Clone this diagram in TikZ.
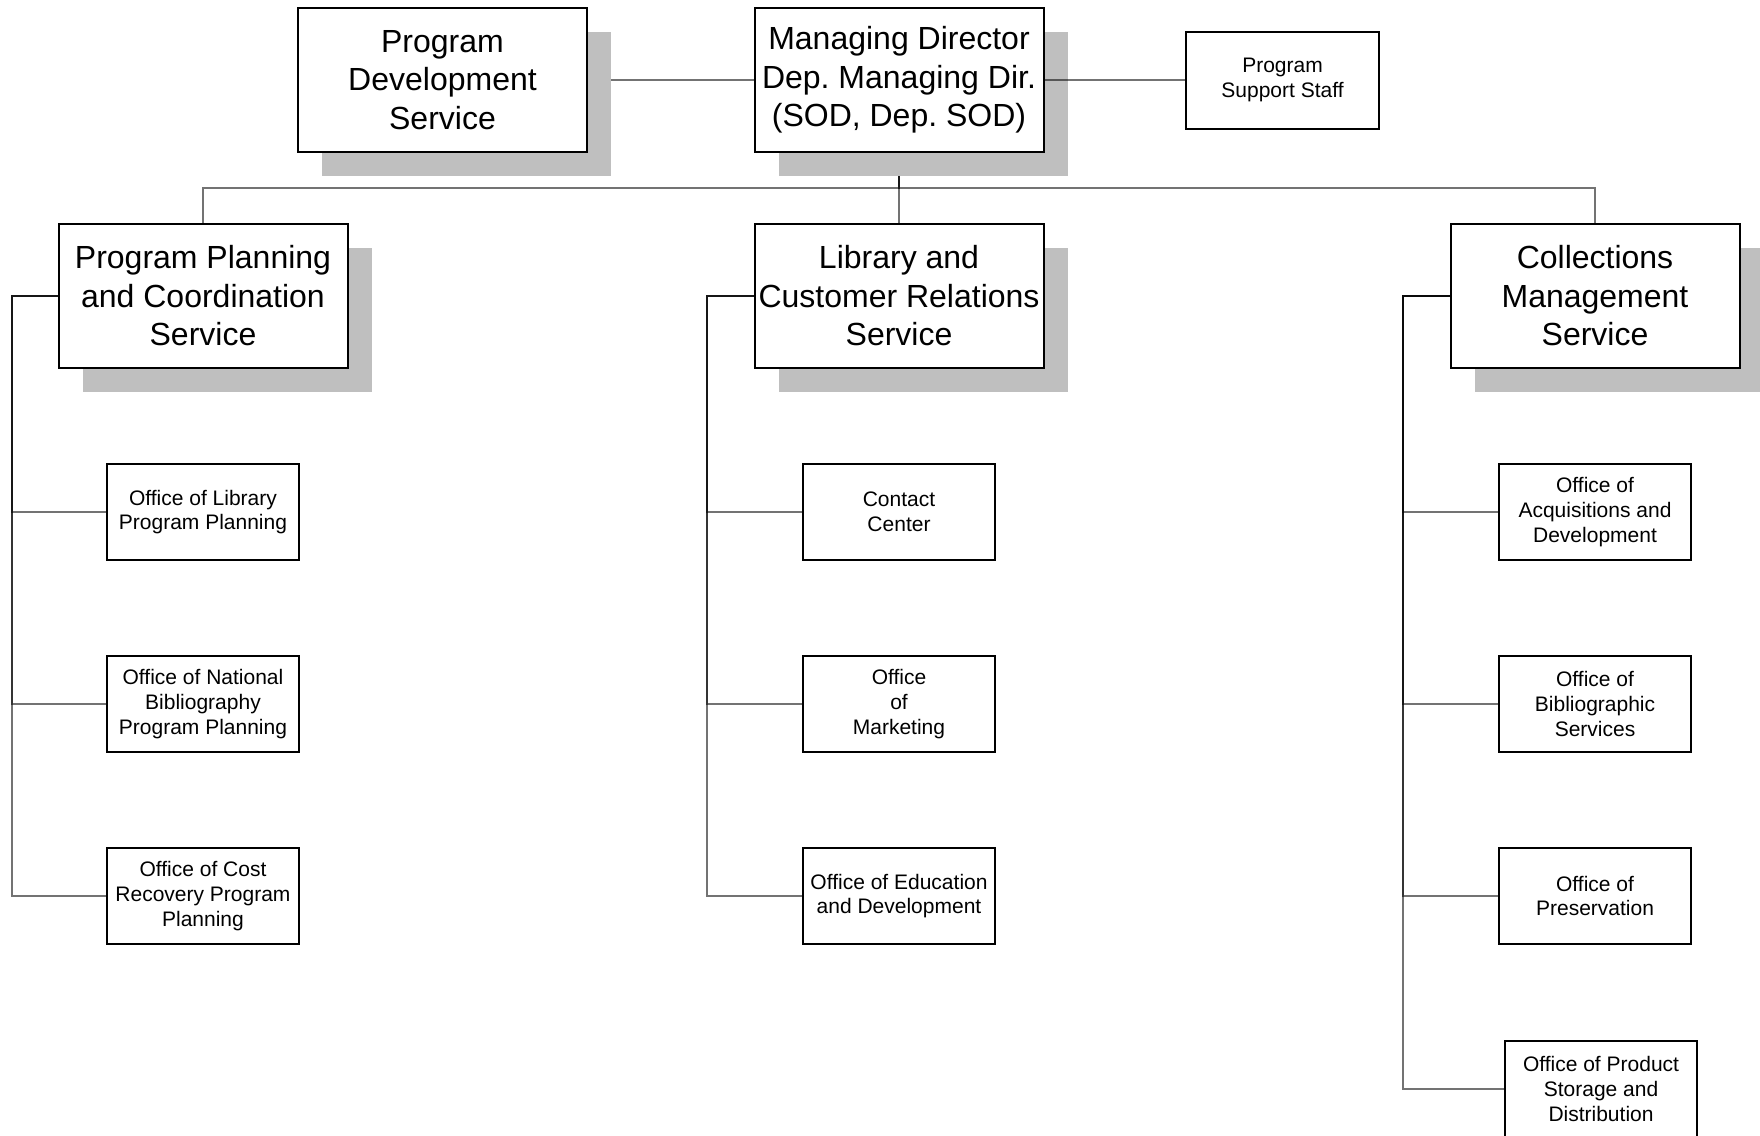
\documentclass[tikz,border=0pt]{standalone}
\usepackage{fontspec}
\setmainfont{Liberation Sans}
\usetikzlibrary{shadows}
\pgfdeclarelayer{background}
\pgfsetlayers{background,main}
\frenchspacing
\begin{document}
\begin{tikzpicture}[x=1pt,y=-1pt,
  bigbox/.style={draw, line width=2pt, fill=white, minimum width=289pt, minimum height=144pt,
    inner sep=0pt, align=center, font=\fontsize{32}{38.5}\selectfont,
    drop shadow={shadow xshift=24pt, shadow yshift=-24pt, fill=black!25, opacity=1}},
  smallbox/.style={draw, line width=2pt, fill=white, minimum width=192pt, minimum height=96pt,
    inner sep=0pt, align=center, font=\fontsize{21}{24.7}\selectfont},
  conn/.style={draw=black, draw opacity=0.55, line width=1.6pt}]
\useasboundingbox (0,0) rectangle (1760,1135);

% top row
\node[bigbox] (PDS) at (442.5,80) {Program\\Development\\Service};
\node[bigbox] (MD) at (899,80) {Managing Director\\Dep. Managing Dir.\\(SOD, Dep. SOD)};
\node[smallbox, minimum width=193pt, minimum height=97pt] (PSS) at (1282.5,80) {Program\\Support Staff};

% second row
\node[bigbox] (PPCS) at (203,296) {Program Planning\\and Coordination\\Service};
\node[bigbox] (LCRS) at (899,296) {Library and\\Customer Relations\\Service};
\node[bigbox] (CMS) at (1595,296) {Collections\\Management\\Service};

% third level
\node[smallbox] (A1) at (203,512) {Office of Library\\Program Planning};
\node[smallbox] (A2) at (203,704) {Office of National\\Bibliography\\Program Planning};
\node[smallbox] (A3) at (203,896) {Office of Cost\\Recovery Program\\Planning};

\node[smallbox] (B1) at (899,512) {Contact\\Center};
\node[smallbox] (B2) at (899,704) {Office\\of\\Marketing};
\node[smallbox] (B3) at (899,896) {Office of Education\\and Development};

\node[smallbox] (C1) at (1595,512) {Office of\\Acquisitions and\\Development};
\node[smallbox] (C2) at (1595,704) {Office of\\Bibliographic\\Services};
\node[smallbox] (C3) at (1595,896) {Office of\\Preservation};
\node[smallbox] (C4) at (1601,1089) {Office of Product\\Storage and\\Distribution};

\coordinate (bus) at (0,188);
\coordinate (spA) at (11.7,296);
\coordinate (spB) at (707,296);
\coordinate (spC) at (1403,296);

% drawn over the shadow of MD
\draw[conn] (MD.east) -- (PSS.west);

\begin{pgfonlayer}{background}
\draw[conn] (PDS.east) -- (MD.west);
\draw[conn] (MD.south) -- (MD.south |- bus) -| (PPCS.north);
\draw[conn] (MD.south) -- (LCRS.north);
\draw[conn] (MD.south) -- (MD.south |- bus) -| (CMS.north);

\draw[conn] (PPCS.west) -- (spA) |- (A1.west);
\draw[conn] (PPCS.west) -- (spA) |- (A2.west);
\draw[conn] (PPCS.west) -- (spA) |- (A3.west);

\draw[conn] (LCRS.west) -- (spB) |- (B1.west);
\draw[conn] (LCRS.west) -- (spB) |- (B2.west);
\draw[conn] (LCRS.west) -- (spB) |- (B3.west);

\draw[conn] (CMS.west) -- (spC) |- (C1.west);
\draw[conn] (CMS.west) -- (spC) |- (C2.west);
\draw[conn] (CMS.west) -- (spC) |- (C3.west);
\draw[conn] (CMS.west) -- (spC) |- (C4.west);
\end{pgfonlayer}
\end{tikzpicture}
\end{document}
